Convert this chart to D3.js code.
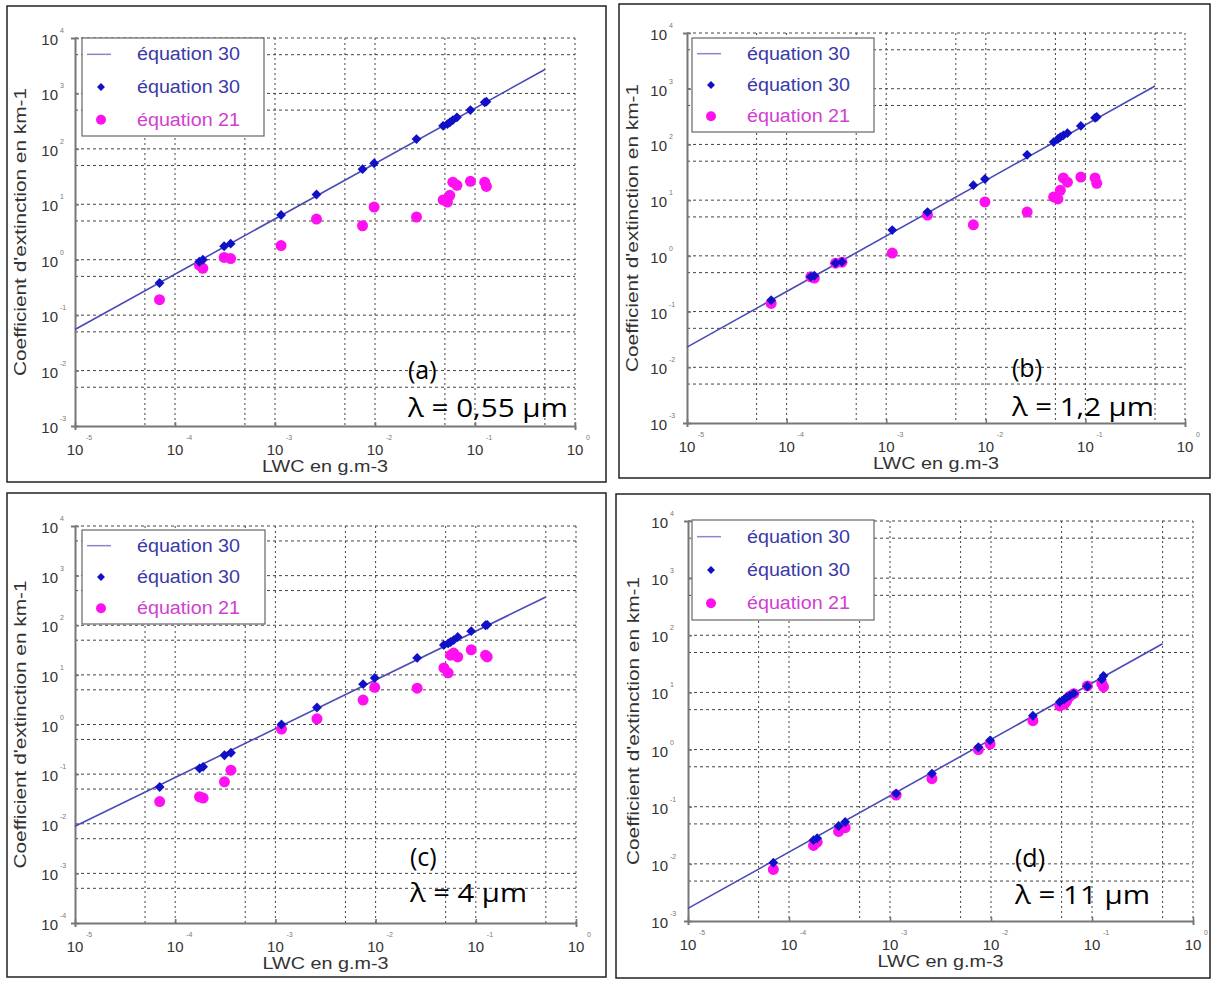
<!DOCTYPE html>
<html><head><meta charset="utf-8">
<script src="https://cdn.jsdelivr.net/npm/d3@7"></script>
<style>body{margin:0;background:#fff}svg{display:block}</style>
</head><body>
<svg id="c" width="1212" height="981"></svg>
<script>
// ---------- DATA ----------
const lwc = [7.0e-5, 1.75e-4, 1.9e-4, 3.1e-4, 3.6e-4, 1.15e-3, 2.6e-3, 7.5e-3, 9.8e-3, 0.026, 0.048, 0.053, 0.056, 0.060, 0.066, 0.090, 0.125, 0.130];
const lineX = [1e-5, 0.5];
const xTicks = [1e-5, 1e-4, 1e-3, 1e-2, 1e-1, 1e0];
const xTickLabels = ["-5", "-4", "-3", "-2", "-1", "0"];
const legendLabels = ["équation 30", "équation 30", "équation 21"];
const yLabel = "Coefficient d'extinction en km-1";
const xLabel = "LWC en g.m-3";

// (a) lambda = 0.55 um
const lineA = [0.055, 2700];
const eq30A = [0.38, 0.92, 1.0, 1.75, 1.95, 6.4, 15, 43, 55, 150, 260, 280, 300, 330, 370, 500, 690, 710];
const eq21A = [0.19, 0.80, 0.70, 1.1, 1.05, 1.8, 5.4, 4.1, 8.9, 5.9, 12, 11, 14.5, 25, 22, 26, 25, 21];
// (b) lambda = 1.2 um
const lineB = [0.023, 1120];
const eq30B = [0.16, 0.42, 0.44, 0.74, 0.78, 2.9, 6.1, 18.6, 24, 65, 110, 125, 135, 145, 160, 215, 300, 310];
const eq21B = [0.14, 0.42, 0.40, 0.74, 0.77, 1.12, 5.4, 3.6, 9.3, 6.1, 11.4, 10.5, 15, 25, 21, 26, 25, 20];
// (c) lambda = 4 um
const lineC = [0.0089, 370];
const eq30C = [0.055, 0.13, 0.14, 0.24, 0.27, 1.0, 2.2, 6.5, 8.7, 22, 40, 43, 46, 50, 58, 76, 100, 102];
const eq21C = [0.028, 0.035, 0.033, 0.07, 0.12, 0.81, 1.3, 3.1, 5.6, 5.4, 13.8, 11, 25, 27.5, 23, 32, 25, 23];
// (d) lambda = 11 um
const lineD = [0.00166, 71];
const eq30D = [0.0105, 0.026, 0.028, 0.046, 0.054, 0.17, 0.38, 1.1, 1.45, 3.9, 6.8, 7.6, 8.2, 8.8, 9.6, 12.8, 17, 19.5];
const eq21D = [0.008, 0.021, 0.024, 0.037, 0.043, 0.16, 0.31, 1.0, 1.25, 3.2, 5.8, 6.2, 7.0, 8.5, 9.5, 13, 14.4, 12.5];

const panelNames = ["(a)", "(b)", "(c)", "(d)"];
const lambdaTexts = ["λ = 0,55 µm", "λ = 1,2 µm", "λ = 4 µm", "λ = 11 µm"];
const yTicksA = [-3, -2, -1, 0, 1, 2, 3, 4];
const yTicksC = [-4, -3, -2, -1, 0, 1, 2, 3, 4];

// ---------- LAYOUT ----------
const layout = [
  {frame:[7,6,599,476], plot:{l:75,t:38,r:575,b:426}, yd:[1e-3,1e4], yt:yTicksA, leg:[82,38,264,136], ann:[408,370,408,408,160],
   line:lineA, e30:eq30A, e21:eq21A},
  {frame:[619,4,591,474], plot:{l:687,t:33,r:1185,b:423}, yd:[1e-3,1e4], yt:yTicksA, leg:[692,38,874,132], ann:[1012,368,1012,407,142],
   line:lineB, e30:eq30B, e21:eq21B},
  {frame:[7,493,599,484], plot:{l:75,t:526,r:576,b:923}, yd:[1e-4,1e4], yt:yTicksC, leg:[82,530,265,624], ann:[410,857,410,893,117],
   line:lineC, e30:eq30C, e21:eq21C},
  {frame:[616,494,594,484], plot:{l:688,t:521,r:1193,b:921}, yd:[1e-3,1e4], yt:yTicksA, leg:[692,520,874,620], ann:[1015,858,1015,895,135],
   line:lineD, e30:eq30D, e21:eq21D}
];

const svg = d3.select("#c");
const blue = "#1010c8", lineCol = "#4a4ab8", mag = "#ff10f0", txtBlue = "#3a3aa8", txtMag = "#d040d0";
const sans = "Liberation Sans, Arial";

layout.forEach((P, i) => {
  const g = svg.append("g");
  g.append("rect").attr("x", P.frame[0]).attr("y", P.frame[1]).attr("width", P.frame[2]).attr("height", P.frame[3])
    .attr("fill", "#fff").attr("stroke", "#222").attr("stroke-width", 1.5);
  const x = d3.scaleLog().domain([1e-5, 1]).range([P.plot.l, P.plot.r]);
  const y = d3.scaleLog().domain(P.yd).range([P.plot.b, P.plot.t]);

  // grid lines at 10^n and 5*10^n
  const xg = [];
  for (let e = -5; e <= 0; e++) { if (e > -5) xg.push(Math.pow(10, e)); if (e < 0) xg.push(5 * Math.pow(10, e)); }
  const yg = [];
  const y0 = Math.round(Math.log10(P.yd[0])), y1 = Math.round(Math.log10(P.yd[1]));
  for (let e = y0; e <= y1; e++) { if (e > y0) yg.push(Math.pow(10, e)); if (e < y1) yg.push(5 * Math.pow(10, e)); }
  g.selectAll(".vg").data(xg).enter().append("line")
    .attr("x1", d => x(d)).attr("x2", d => x(d)).attr("y1", P.plot.t).attr("y2", P.plot.b)
    .attr("stroke", "#444").attr("stroke-width", 1).attr("stroke-dasharray", "2,3");
  g.selectAll(".hg").data(yg).enter().append("line")
    .attr("y1", d => y(d)).attr("y2", d => y(d)).attr("x1", P.plot.l).attr("x2", P.plot.r)
    .attr("stroke", "#444").attr("stroke-width", 1).attr("stroke-dasharray", "3,3");

  // axes (left & bottom)
  const xAxis = d3.axisBottom(x).tickValues(xTicks).tickSize(4).tickFormat("");
  const yAxis = d3.axisLeft(y).tickValues(P.yt.map(e => Math.pow(10, e))).tickSize(4).tickFormat("");
  const gx = g.append("g").attr("transform", `translate(0,${P.plot.b})`).call(xAxis);
  const gy = g.append("g").attr("transform", `translate(${P.plot.l},0)`).call(yAxis);
  [gx, gy].forEach(a => { a.selectAll("path,line").attr("stroke", "#777").attr("stroke-width", 1.6); a.select(".domain").attr("stroke-width", 2); });
  gy.selectAll(".tick line").attr("x2", 4);
  gx.selectAll(".tick line").attr("y2", -4);

  // tick labels
  xTicks.forEach((t, k) => {
    g.append("text").attr("x", x(t)).attr("y", P.plot.b + 29).attr("text-anchor", "middle")
      .attr("font-family", sans).attr("font-size", 15).attr("fill", "#333").text("10");
    g.append("text").attr("x", x(t) + 11).attr("y", P.plot.b + 14).attr("font-family", sans)
      .attr("font-size", 7).attr("fill", "#777").text(xTickLabels[k]);
  });
  const yOff = i % 2 === 0 ? 17 : 20;
  P.yt.forEach(e => {
    g.append("text").attr("x", P.plot.l - yOff).attr("y", y(Math.pow(10, e)) + 7).attr("text-anchor", "end")
      .attr("font-family", sans).attr("font-size", 15).attr("fill", "#333").text("10");
    g.append("text").attr("x", P.plot.l - yOff + 2).attr("y", y(Math.pow(10, e)) - 5).attr("font-family", sans)
      .attr("font-size", 7).attr("fill", "#777").text(String(e));
  });

  // axis titles
  g.append("text").attr("transform", `translate(${P.plot.l - 49},${(P.plot.t + P.plot.b) / 2}) rotate(-90)`)
    .attr("text-anchor", "middle").attr("font-family", sans).attr("font-size", 17).attr("fill", "#333")
    .attr("textLength", 288).attr("lengthAdjust", "spacingAndGlyphs").text(yLabel);
  g.append("text").attr("x", (P.plot.l + P.plot.r) / 2).attr("y", P.plot.b + 46).attr("text-anchor", "middle")
    .attr("font-family", sans).attr("font-size", 17).attr("fill", "#333")
    .attr("textLength", 126).attr("lengthAdjust", "spacingAndGlyphs").text(xLabel);

  // eq 30 line
  g.append("path").datum(lineX.map((v, k) => [v, P.line[k]]))
    .attr("d", d3.line().x(d => x(d[0])).y(d => y(d[1]))).attr("stroke", lineCol).attr("stroke-width", 1.6).attr("fill", "none");
  // eq 21 points
  g.selectAll(".m").data(lwc.map((v, k) => [v, P.e21[k]])).enter().append("circle")
    .attr("cx", d => x(d[0])).attr("cy", d => y(d[1])).attr("r", 5.5).attr("fill", mag);
  // eq 30 points
  g.selectAll(".d").data(lwc.map((v, k) => [v, P.e30[k]])).enter().append("path")
    .attr("transform", d => `translate(${x(d[0])},${y(d[1])})`).attr("d", d3.symbol(d3.symbolDiamond2, 62)).attr("fill", blue);

  // legend
  const L = P.leg;
  g.append("rect").attr("x", L[0]).attr("y", L[1]).attr("width", L[2] - L[0]).attr("height", L[3] - L[1])
    .attr("fill", "#fff").attr("stroke", "#666").attr("stroke-width", 1.2);
  const rowH = (L[3] - L[1]) / 3;
  const ry = k => L[1] + rowH * (k + 0.5);
  g.append("line").attr("x1", L[0] + 5).attr("x2", L[0] + 29).attr("y1", ry(0)).attr("y2", ry(0)).attr("stroke", "#8888cc").attr("stroke-width", 1.5);
  g.append("path").attr("transform", `translate(${L[0] + 19},${ry(1)})`).attr("d", d3.symbol(d3.symbolDiamond2, 40)).attr("fill", blue);
  g.append("circle").attr("cx", L[0] + 19).attr("cy", ry(2)).attr("r", 5).attr("fill", mag);
  legendLabels.forEach((t, k) => {
    g.append("text").attr("x", L[0] + 55).attr("y", ry(k) + 6).attr("font-family", sans).attr("font-size", 18)
      .attr("fill", k === 2 ? txtMag : txtBlue).attr("textLength", 103).attr("lengthAdjust", "spacingAndGlyphs").text(t);
  });

  // annotations
  g.append("text").attr("x", P.ann[0]).attr("y", P.ann[1] + 9).attr("font-family", "Open Sans, Noto Sans").attr("font-size", 25).attr("fill", "#000").text(panelNames[i]);
  g.append("text").attr("x", P.ann[2]).attr("y", P.ann[3] + 9).attr("font-family", "Open Sans, Noto Sans").attr("font-size", 25).attr("fill", "#000")
    .attr("textLength", P.ann[4]).attr("lengthAdjust", "spacingAndGlyphs").text(lambdaTexts[i]);
});
</script>
</body></html>
